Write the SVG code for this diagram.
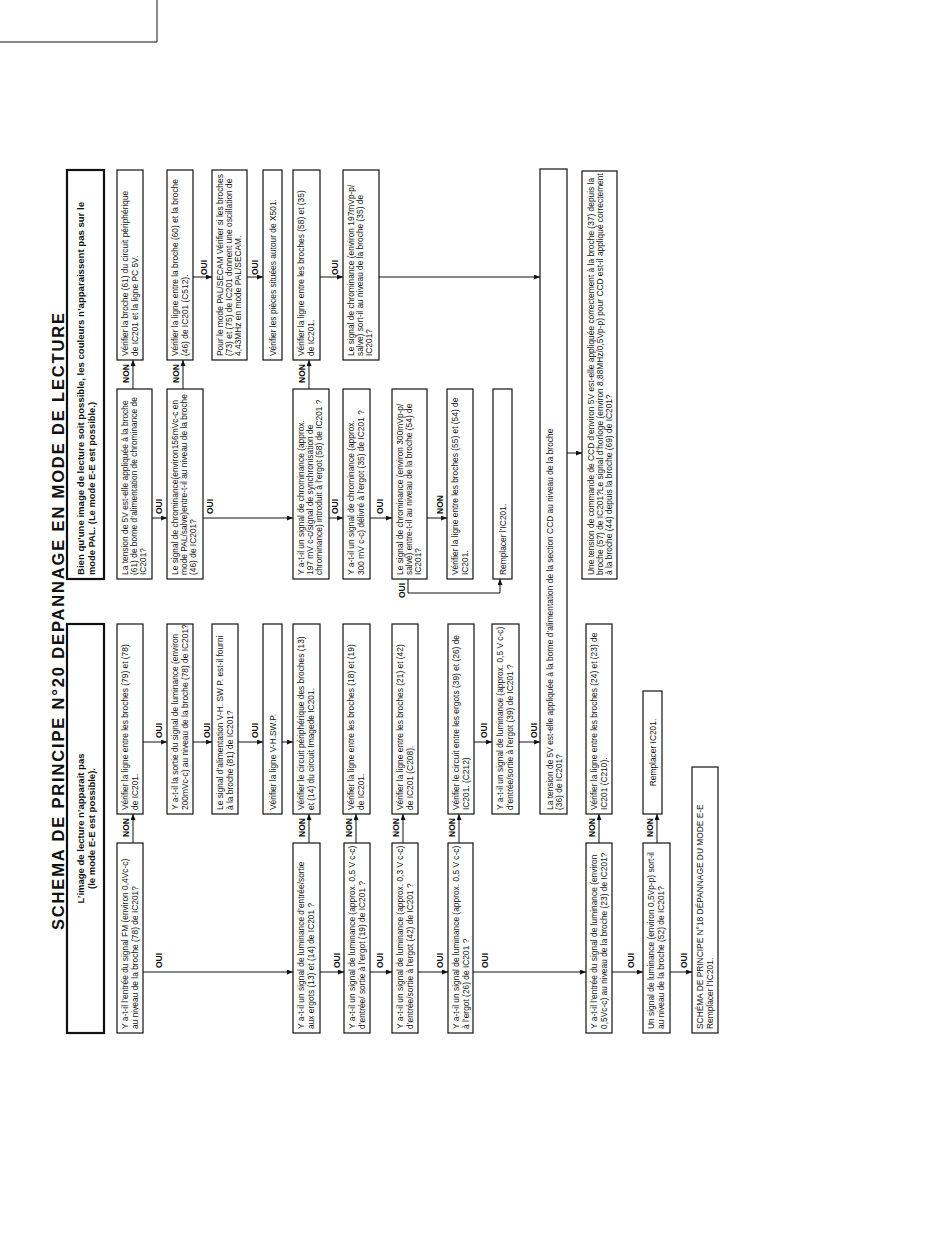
<svg xmlns="http://www.w3.org/2000/svg" width="950" height="1237" viewBox="0 0 950 1237">
<style>
.b{fill:#fff;stroke:#111;stroke-width:1.2}
.h{fill:#fff;stroke:#111;stroke-width:2.2}
.t{font-family:"Liberation Sans",Arial,sans-serif;font-size:8.4px;fill:#111}
.tc{font-family:"Liberation Sans",Arial,sans-serif;font-size:8.4px;fill:#111;text-anchor:middle}
.l{font-family:"Liberation Sans",Arial,sans-serif;font-size:8.5px;font-weight:bold;fill:#111}
.hd{font-family:"Liberation Sans",Arial,sans-serif;font-size:9.5px;font-weight:bold;fill:#111}
.ti{font-family:"Liberation Sans",Arial,sans-serif;font-size:16.5px;font-weight:bold;fill:#111;text-anchor:middle}
.c{fill:none;stroke:#111;stroke-width:1}
.a{fill:none;stroke:#111;stroke-width:1;marker-end:url(#ah)}
</style>
<defs>
<marker id="ah" markerUnits="userSpaceOnUse" markerWidth="6" markerHeight="5" refX="6" refY="2.5" orient="auto">
<path d="M0,0 L6,2.5 L0,5 z" fill="#111"/>
</marker>
</defs>
<rect width="950" height="1237" fill="#fff"/>
<path class="c" d="M0,42 H157 V0"/>
<g transform="translate(0,1237) rotate(-90)">
<text class="ti" x="615.5" y="64" textLength="617" lengthAdjust="spacing">SCHEMA DE PRINCIPE N°20  DEPANNAGE EN MODE DE LECTURE</text>

<g id="connectors">
<path class="a" d="M394,133 H423"/>
<path class="a" d="M265,143 V293"/>
<path class="a" d="M265,320 V344"/>
<path class="a" d="M265,370 V392"/>
<path class="a" d="M265,418 V448"/>
<path class="a" d="M265,473 V586"/>
<path class="a" d="M265,612 V643"/>
<path class="a" d="M265,670 V692"/>
<path class="a" d="M495,143 V167"/>
<path class="a" d="M495,193 V212"/>
<path class="a" d="M495,238 V263"/>
<path class="a" d="M495,282 V293"/>
<path class="a" d="M495,474 V492"/>
<path class="a" d="M495,519 V540"/>
<path class="a" d="M394,309 H423"/>
<path class="a" d="M394,356 H423"/>
<path class="a" d="M394,403 H423"/>
<path class="a" d="M394,459 H423"/>
<path class="a" d="M394,599 H423"/>
<path class="a" d="M394,657 H423"/>
<path class="a" d="M848,133 H877"/>
<path class="a" d="M848,183 H877"/>
<path class="a" d="M848,309 H877"/>
<path class="a" d="M719,152 V167"/>
<path class="a" d="M719,203 V293"/>
<path class="a" d="M719,329 V343"/>
<path class="a" d="M719,370 V392"/>
<path class="a" d="M719,427 V447"/>
<path class="a" d="M658,408 H644 V500 H658"/>
<path class="a" d="M960,193 V212"/>
<path class="a" d="M960,247 V263"/>
<path class="a" d="M960,320 V343"/>
<path class="a" d="M960,379 V540"/>
<path class="a" d="M784,567 V582"/>
<text class="l" x="400" y="129">NON</text>
<text class="l" x="400" y="305">NON</text>
<text class="l" x="400" y="352">NON</text>
<text class="l" x="400" y="399">NON</text>
<text class="l" x="400" y="455">NON</text>
<text class="l" x="400" y="595">NON</text>
<text class="l" x="400" y="653">NON</text>
<text class="l" x="854" y="129">NON</text>
<text class="l" x="854" y="179">NON</text>
<text class="l" x="854" y="305">NON</text>
<text class="l" x="723" y="443">NON</text>
<text class="l" x="269" y="162">OUI</text>
<text class="l" x="269" y="340">OUI</text>
<text class="l" x="269" y="383">OUI</text>
<text class="l" x="269" y="443">OUI</text>
<text class="l" x="269" y="488">OUI</text>
<text class="l" x="269" y="634">OUI</text>
<text class="l" x="269" y="687">OUI</text>
<text class="l" x="499" y="162">OUI</text>
<text class="l" x="499" y="210">OUI</text>
<text class="l" x="499" y="258">OUI</text>
<text class="l" x="499" y="487">OUI</text>
<text class="l" x="499" y="537">OUI</text>
<text class="l" x="723" y="162">OUI</text>
<text class="l" x="723" y="213">OUI</text>
<text class="l" x="723" y="338">OUI</text>
<text class="l" x="723" y="383">OUI</text>
<text class="l" x="962" y="207">OUI</text>
<text class="l" x="962" y="258">OUI</text>
<text class="l" x="962" y="338">OUI</text>
<text class="l" x="639" y="405">OUI</text>
</g>

<g id="hdrL"><rect class="h" x="204" y="67" width="409" height="37"/>
<text class="hd" x="408.5" y="83.5" text-anchor="middle">L’image de lecture n’apparait pas</text>
<text class="hd" x="408.5" y="95" text-anchor="middle">(le mode E-E est possible).</text></g>
<g id="hdrR"><rect class="h" x="658" y="67" width="409" height="37"/>
<text class="hd" x="662" y="83.5" textLength="373" lengthAdjust="spacingAndGlyphs">Bien qu’une image de lecture soit possible, les couleurs n’apparaissent pas sur le</text>
<text class="hd" x="662" y="95" textLength="173" lengthAdjust="spacingAndGlyphs">mode PAL. (Le mode E-E est possible.)</text></g>

<g id="L1"><rect class="b" x="204" y="117" width="190" height="26"/>
<text class="t" x="208" y="128">Y a-t-il l’entrée du signal FM (environ 0,4Vc-c)</text>
<text class="t" x="208" y="137.5">au niveau de la broche (78) de IC201?</text></g>
<g id="L2"><rect class="b" x="204" y="293" width="190" height="27"/>
<text class="t" x="208" y="304">Y a-t-il un signal de luminance d’entrée/sortie</text>
<text class="t" x="208" y="313.5">aux ergots (13) et (14) de IC201 ?</text></g>
<g id="L3"><rect class="b" x="204" y="344" width="190" height="26"/>
<text class="t" x="208" y="355">Y a-t-il un signal de luminance (approx. 0,5 V c-c)</text>
<text class="t" x="208" y="364.5">d’entrée/ sortie à l’ergot (19) de IC201 ?</text></g>
<g id="L4"><rect class="b" x="204" y="392" width="190" height="26"/>
<text class="t" x="208" y="403">Y a-t-il un signal de luminance  (approx. 0,3 V c-c)</text>
<text class="t" x="208" y="412.5">d’entrée/sortie à l’ergot (42) de IC201 ?</text></g>
<g id="L5"><rect class="b" x="204" y="448" width="190" height="25"/>
<text class="t" x="208" y="459">Y a-t-il un signal de luminance (approx. 0,5 V c-c)</text>
<text class="t" x="208" y="468.5">à l’ergot (26) de IC201 ?</text></g>
<g id="L6"><rect class="b" x="204" y="586" width="190" height="26"/>
<text class="t" x="208" y="597">Y a-t-il l’entrée du signal de luminance (environ</text>
<text class="t" x="208" y="606.5">0,5Vc-c) au niveau de la broche (23) de IC201?</text></g>
<g id="L7"><rect class="b" x="204" y="643" width="190" height="27"/>
<text class="t" x="208" y="654">Un signal de luminance (environ 0,5Vp-p) sort-il</text>
<text class="t" x="208" y="663.5">au niveau de la broche (52) de IC201?</text></g>
<g id="L8"><rect class="b" x="204" y="692" width="266" height="26"/>
<text class="t" x="208" y="703">SCHÉMA DE PRINCIPE N°18 DÉPANNAGE DU MODE E-E</text>
<text class="t" x="208" y="712.5">Remplacer l’IC201.</text></g>

<g id="La"><rect class="b" x="423" y="117" width="190" height="26"/>
<text class="t" x="427" y="128">Vérifier la ligne entre les broches (79) et (78)</text>
<text class="t" x="427" y="137.5">de IC201.</text></g>
<g id="Lb"><rect class="b" x="423" y="167" width="190" height="26"/>
<text class="t" x="427" y="178">Y a-t-il la sortie du signal de luminance (environ</text>
<text class="t" x="427" y="187.5">200mVc-c) au niveau de la broche (78) de IC201?</text></g>
<g id="Lc"><rect class="b" x="423" y="212" width="190" height="26"/>
<text class="t" x="427" y="223">Le signal d’alimentation V-H. SW P. est-il fourni</text>
<text class="t" x="427" y="232.5">à la broche (81) de IC201?</text></g>
<g id="Ld"><rect class="b" x="423" y="263" width="190" height="19"/>
<text class="t" x="427" y="275.5">Vérifier la ligne V-H.SW.P.</text></g>
<g id="Le"><rect class="b" x="423" y="293" width="190" height="27"/>
<text class="t" x="427" y="304">Vérifier le circuit périphérique des broches (13)</text>
<text class="t" x="427" y="313.5">et (14) du circuit Imagede IC201.</text></g>
<g id="Lf"><rect class="b" x="423" y="343" width="190" height="27"/>
<text class="t" x="427" y="354">Vérifier la ligne entre les broches (18) et (19)</text>
<text class="t" x="427" y="363.5">de IC201.</text></g>
<g id="Lg"><rect class="b" x="423" y="392" width="190" height="26"/>
<text class="t" x="427" y="403">Vérifier la ligne entre les broches (21) et (42)</text>
<text class="t" x="427" y="412.5">de IC201 (C208).</text></g>
<g id="Lh"><rect class="b" x="423" y="448" width="190" height="26"/>
<text class="t" x="427" y="459">Vérifier le circuit entre les ergots (39) et (26) de</text>
<text class="t" x="427" y="468.5">IC201. (C212)</text></g>
<g id="Li"><rect class="b" x="423" y="492" width="190" height="27"/>
<text class="t" x="427" y="503">Y a-t-il un signal de luminance (approx. 0,5 V c-c)</text>
<text class="t" x="427" y="512.5">d’entrée/sortie à l’ergot (39) de IC201 ?</text></g>
<g id="Lj"><rect class="b" x="423" y="586" width="190" height="26"/>
<text class="t" x="427" y="597">Vérifier la ligne entre les broches (24) et (23) de</text>
<text class="t" x="427" y="606.5">IC201 (C210).</text></g>
<g id="Lk"><rect class="b" x="423" y="643" width="123" height="19"/>
<text class="tc" x="484.5" y="655.5">Remplacer IC201.</text></g>

<g id="RA"><rect class="b" x="658" y="117" width="190" height="35"/>
<text class="t" x="662" y="128">La tension de 5V est-elle appliquée à la broche</text>
<text class="t" x="662" y="137">(61) de borne d’alimentation de chrominance de</text>
<text class="t" x="662" y="146">IC201?</text></g>
<g id="RB"><rect class="b" x="658" y="167" width="190" height="36"/>
<text class="t" x="662" y="178">Le signal de chrominance(environ156mVc-c en</text>
<text class="t" x="662" y="187">mode PAL/salve)entre-t-il au niveau de la broche</text>
<text class="t" x="662" y="196">(46) de IC201?</text></g>
<g id="RC"><rect class="b" x="658" y="293" width="190" height="36"/>
<text class="t" x="662" y="304">Y a-t-il un signal de chrominance (approx.</text>
<text class="t" x="662" y="313">197 mV c-c/signal de synchronisation de</text>
<text class="t" x="662" y="322">chrominance) introduit à l’ergot (58) de IC201 ?</text></g>
<g id="RD"><rect class="b" x="658" y="343" width="190" height="27"/>
<text class="t" x="662" y="354">Y a-t-il un signal de chrominance (approx.</text>
<text class="t" x="662" y="363.5">300 mV c-c) délivré à l’ergot (35) de IC201 ?</text></g>
<g id="RE"><rect class="b" x="658" y="392" width="190" height="35"/>
<text class="t" x="662" y="403">Le signal de chrominance (environ 300mVp-p/</text>
<text class="t" x="662" y="412">salvé) entre-t-il au niveau de la broche (54) de</text>
<text class="t" x="662" y="421">IC201?</text></g>
<g id="RF"><rect class="b" x="658" y="447" width="190" height="26"/>
<text class="t" x="662" y="458">Vérifier la ligne entre les broches (55) et (54) de</text>
<text class="t" x="662" y="467.5">IC201.</text></g>
<g id="RG"><rect class="b" x="658" y="493" width="190" height="19"/>
<text class="t" x="662" y="505.5">Remplacer l’IC201.</text></g>

<g id="Ra"><rect class="b" x="877" y="117" width="190" height="26"/>
<text class="t" x="881" y="128">Vérifier la broche (61) du circuit périphérique</text>
<text class="t" x="881" y="137.5">de IC201 et la ligne PC 5V.</text></g>
<g id="Rb"><rect class="b" x="877" y="167" width="190" height="26"/>
<text class="t" x="881" y="178">Vérifier la ligne entre la broche (60) et la broche</text>
<text class="t" x="881" y="187.5">(46) de IC201 (C512).</text></g>
<g id="Rc"><rect class="b" x="877" y="212" width="190" height="35"/>
<text class="t" x="881" y="223">Pour le mode PAL/SECAM Vérifier si les broches</text>
<text class="t" x="881" y="232">(73) et (75) de IC201 donnent une oscillation de</text>
<text class="t" x="881" y="241">4,43MHz en mode PAL/SECAM.</text></g>
<g id="Rd"><rect class="b" x="877" y="263" width="190" height="19"/>
<text class="t" x="881" y="275.5">Vérifier les pièces situées autour de X501.</text></g>
<g id="Re"><rect class="b" x="877" y="293" width="190" height="27"/>
<text class="t" x="881" y="304">Vérifier la ligne entre les broches (58) et (35)</text>
<text class="t" x="881" y="313.5">de IC201.</text></g>
<g id="Rf"><rect class="b" x="877" y="343" width="190" height="36"/>
<text class="t" x="881" y="354">Le signal de chrominance (environ 197mVp-p/</text>
<text class="t" x="881" y="363">salve) sort-il au niveau de la broche (35) de</text>
<text class="t" x="881" y="372">IC201?</text></g>

<g id="CCD"><rect class="b" x="423" y="540" width="645" height="27"/>
<text class="t" x="427" y="552.5">La tension de 5V est-elle appliquée à la borne d’alimentation de la section CCD au niveau de la broche</text>
<text class="t" x="427" y="562">(36) de IC201?</text></g>
<g id="CCDcmd"><rect class="b" x="658" y="582" width="408" height="35"/>
<text class="t" x="662" y="593.5">Une tension de commande de CCD d’environ 5V est-elle appliquée correctement à la broche (37) depuis la</text>
<text class="t" x="662" y="602.5">broche (57) de IC201?Le signal d’horloge (environ 8,88MHz/0,5Vp-p) pour CCD est-il appliqué correctement</text>
<text class="t" x="662" y="611.5">à la broche (44) depuis la broche (69) de IC201?</text></g>
</g>
</svg>
